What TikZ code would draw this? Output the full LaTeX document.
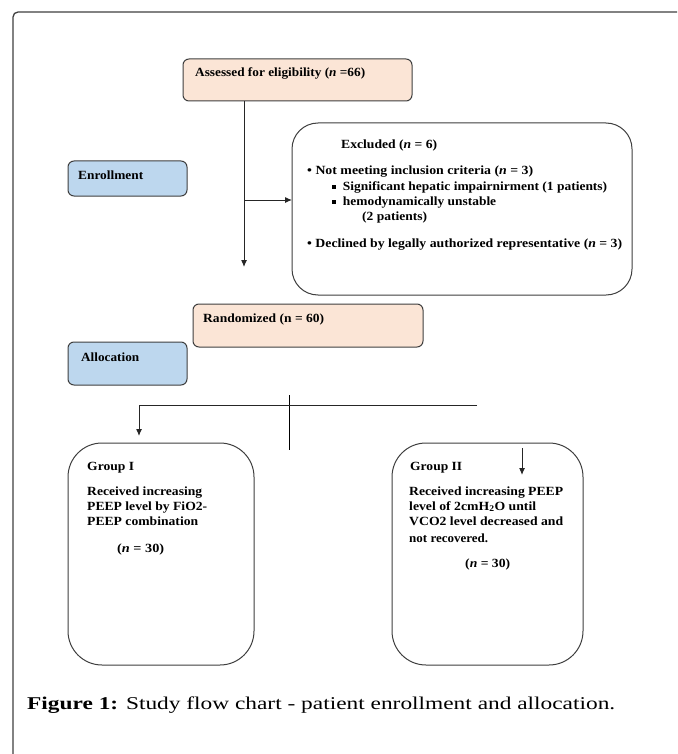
\documentclass[tikz,border=0pt]{standalone}
\usepackage{fontspec}
\setmainfont{Liberation Serif}
\usetikzlibrary{arrows.meta}
\definecolor{peach}{HTML}{FBE5D6}
\definecolor{lblue}{HTML}{BDD7EE}
\definecolor{edge}{HTML}{3F3F3F}
\newcommand{\sqbul}{\raisebox{0.25ex}{\rule{0.3em}{0.3em}}}
\newcommand{\fitto}[2]{\resizebox{#1}{\height}{#2}}
\begin{document}
\begin{tikzpicture}[x=1pt,y=-1pt,
  box/.style={draw=edge,line width=1pt,inner sep=0pt,outer sep=0pt},
  peachbox/.style={box,fill=peach,rounded corners=6pt},
  bluebox/.style={box,fill=lblue,rounded corners=6pt},
  bigbox/.style={box,fill=white,rounded corners=#1},
  txt/.style={anchor=base west,inner sep=0pt,font=\fontsize{12.5}{15}\selectfont\bfseries},
  conn/.style={draw=black!85,line width=1pt},
  arr/.style={conn,-{Latex[length=7pt,width=6pt]}}]
\useasboundingbox (0,0) rectangle (677,754);
% outer frame
\draw[edge,line width=1.3pt,rounded corners=5pt] (13,754) -- (13,12) -- (677,12);
% boxes
\node[peachbox,minimum width=229pt,minimum height=42pt] (assessed) at (297.5,80) {};
\node[bigbox=26pt,minimum width=340pt,minimum height=172pt] (excluded) at (462,209) {};
\node[bluebox,minimum width=119pt,minimum height=35pt] (enroll) at (127.5,178.5) {};
\node[peachbox,minimum width=230pt,minimum height=43pt] (random) at (308,325.5) {};
\node[bluebox,minimum width=119pt,minimum height=43pt] (alloc) at (127.5,363.5) {};
\node[bigbox=34pt,minimum width=186pt,minimum height=222pt] (g1) at (161,554) {};
\node[bigbox=34pt,minimum width=191pt,minimum height=222pt] (g2) at (487.5,554) {};
% texts
\node[txt] (tA) at (195,77) {\fitto{170pt}{Assessed for eligibility (\textit{n} =66)}};
\node[txt] (tE0) at (341,149) {\fitto{96pt}{Excluded (\textit{n} = 6)}};
\node[txt] (tE1) at (307,175) {\fitto{226pt}{\textbullet\ Not meeting inclusion criteria (\textit{n} = 3)}};
\node[txt] (tE2) at (332,190) {\fitto{275pt}{\sqbul\ \ Significant hepatic impairnirment (1 patients)}};
\node[txt] (tE3) at (332,205) {\fitto{164pt}{\sqbul\ \ hemodynamically unstable}};
\node[txt] (tE4) at (362,220) {\fitto{65pt}{(2 patients)}};
\node[txt] (tE5) at (307,247) {\fitto{315pt}{\textbullet\ Declined by legally authorized representative (\textit{n} = 3)}};
\node[txt] (tEn) at (78,179) {\fitto{65pt}{Enrollment}};
\node[txt] (tR) at (203,322) {\fitto{121pt}{Randomized (n = 60)}};
\node[txt] (tAl) at (81,361) {\fitto{58pt}{Allocation}};
\node[txt] (tG1) at (87,470) {\fitto{47pt}{Group I}};
\node[txt] (tG1a) at (87,495) {\fitto{115pt}{Received increasing}};
\node[txt] (tG1b) at (87,510) {\fitto{120pt}{PEEP level by FiO2-}};
\node[txt] (tG1c) at (87,525) {\fitto{111pt}{PEEP combination}};
\node[txt] (tG1n) at (117,552) {\fitto{47pt}{(\textit{n} = 30)}};
\node[txt] (tG2) at (410,470) {\fitto{52pt}{Group II}};
\node[txt] (tG2a) at (409,495) {\fitto{154pt}{Received increasing PEEP}};
\node[txt] (tG2b) at (409,510) {\fitto{127pt}{level of 2cmH\textsubscript{2}O until}};
\node[txt] (tG2c) at (409,525) {\fitto{154pt}{VCO2 level decreased and}};
\node[txt] (tG2d) at (409,542) {\fitto{79pt}{not recovered.}};
\node[txt] (tG2n) at (465,567) {\fitto{45pt}{(\textit{n} = 30)}};
\node[anchor=base west,inner sep=0pt,font=\fontsize{18}{22}\selectfont] (cap) at (27,709) {\fitto{588pt}{\textbf{Figure 1:} Study flow chart - patient enrollment and allocation.}};
% connectors
\coordinate (aEnd) at (244,267);
\coordinate (aMid) at (244,200);
\draw[arr] (assessed.south -| aEnd) -- (aEnd);
\draw[arr] (aMid) -- (aMid -| excluded.west);
\coordinate (sTop) at (289,395);
\coordinate (sBot) at (289,450);
\coordinate (hL) at (139,405);
\coordinate (hR) at (477,405);
\coordinate (g1End) at (139,436);
\coordinate (g2a) at (522,448);
\coordinate (g2b) at (522,475);
\draw[conn,line width=0.8pt,black] (sTop) -- (sBot);
\draw[conn] (hR) -- (hL);
\draw[arr] (hL) -- (g1End);
\draw[arr] (g2a) -- (g2b);
\end{tikzpicture}
\end{document}
